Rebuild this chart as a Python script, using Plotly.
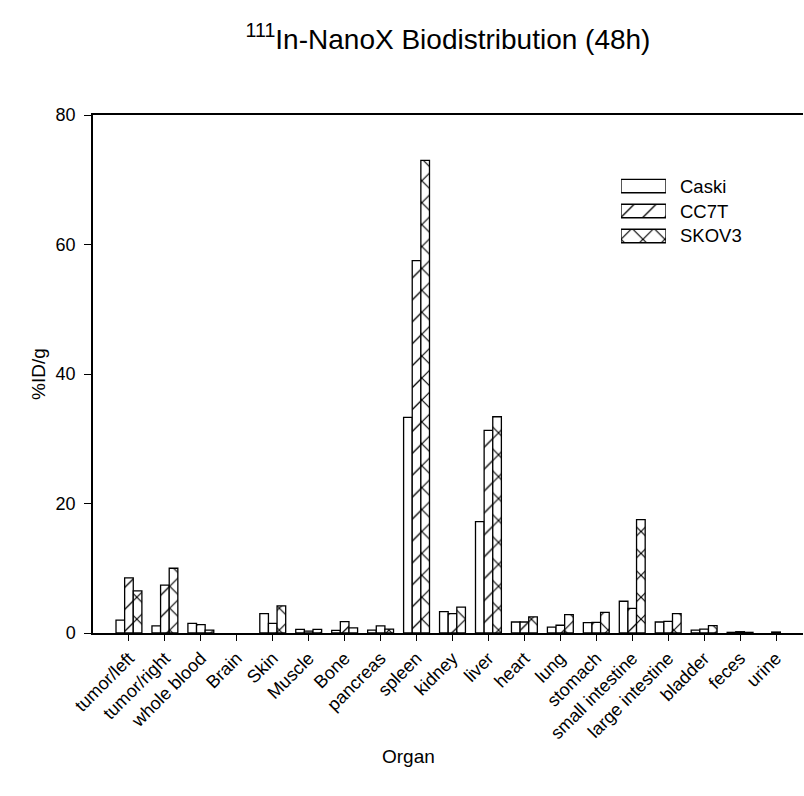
import plotly.graph_objects as go

organs = ["tumor/left", "tumor/right", "whole blood", "Brain", "Skin", "Muscle", "Bone",
          "pancreas", "spleen", "kidney", "liver", "heart", "lung", "stomach",
          "small intestine", "large intestine", "bladder", "feces", "urine"]
series_names = ["Caski", "CC7T", "SKOV3"]
caski = [2.0, 1.1, 1.5, None, 3.0, 0.55, 0.4, 0.45, 33.3, 3.3, 17.2, 1.7, 0.9, 1.6, 4.9, 1.7, 0.45, 0.1, None]
cc7t = [8.5, 7.4, 1.3, None, 1.5, 0.3, 1.75, 1.1, 57.5, 3.0, 31.3, 1.7, 1.2, 1.65, 3.8, 1.8, 0.6, 0.2, 0.15]
skov3 = [6.5, 10.0, 0.45, None, 4.2, 0.55, 0.8, 0.6, 73.0, 4.0, 33.4, 2.5, 2.85, 3.2, 17.5, 3.0, 1.15, 0.1, None]
series_values = [caski, cc7t, skov3]
patterns = ["", "/", "x"]
solidities = [0.085, 0.085, 0.14]
y_ticks = [0, 20, 40, 60, 80]

FONT = "Liberation Sans, Arial, sans-serif"
PSIZE = 15.5
x_idx = list(range(len(organs)))

fig = go.Figure()
for name, vals, pat, sol in zip(series_names, series_values, patterns, solidities):
    fig.add_trace(go.Bar(
        x=x_idx, y=vals, name=name, showlegend=False,
        marker=dict(color="white", line=dict(color="black", width=1.3),
                    pattern=dict(shape=pat, fgcolor="black", bgcolor="white", fgopacity=1,
                                 size=PSIZE, solidity=sol, fillmode="overlay")),
    ))

# custom legend drawn as bars on an inset axis
leg_y = [2, 1, 0]
fig.add_trace(go.Bar(
    x=[1, 1, 1], y=leg_y, orientation="h", width=0.54, xaxis="x2", yaxis="y2",
    showlegend=False, cliponaxis=False, hoverinfo="skip",
    marker=dict(color="white", line=dict(color="black", width=1.3),
                pattern=dict(shape=patterns, fgcolor="black", bgcolor="white", fgopacity=1,
                             size=PSIZE, solidity=solidities, fillmode="overlay")),
))
leg_text_x = (678 - 93) / 710
for name, yy in zip(series_names, leg_y):
    ypaper = 0.7423 + (yy + 0.5) / 3 * (0.887 - 0.7423)
    fig.add_annotation(x=leg_text_x, y=ypaper, xref="paper", yref="paper", text=name, showarrow=False,
                       xanchor="left", yanchor="middle", font=dict(size=18.5, family=FONT, color="black"))

fig.add_annotation(x=0.445, y=-0.239, xref="paper", yref="paper", text="Organ", showarrow=False,
                   xanchor="center", yanchor="middle", font=dict(size=19, family=FONT, color="black"))
fig.add_annotation(x=-0.0775, y=0.5, xref="paper", yref="paper", text="%ID/g", showarrow=False,
                   textangle=-90, xanchor="center", yanchor="middle",
                   font=dict(size=19, family=FONT, color="black"))

fig.update_layout(
    width=804, height=796,
    margin=dict(l=93, r=1, t=115, b=163),
    paper_bgcolor="white", plot_bgcolor="white",
    font=dict(family=FONT, color="black", size=18),
    barmode="group", bargap=0.28, bargroupgap=0,
    title=dict(text="<sup>111</sup>In-NanoX Biodistribution (48h)", x=0.5, xref="paper",
               y=0.951, yref="container", yanchor="middle", xanchor="center",
               font=dict(size=28, family=FONT, color="black")),
    xaxis=dict(tickmode="array", tickvals=x_idx, ticktext=organs, tickangle=-45,
               range=[-1.0, 18.75], showline=True, linecolor="black", linewidth=1.5,
               mirror=True, ticks="outside", ticklen=6, tickcolor="black", tickwidth=1.3,
               showgrid=False, zeroline=False, tickfont=dict(size=18)),
    yaxis=dict(range=[0, 80], tickvals=y_ticks, showline=True, linecolor="black", linewidth=1.5,
               ticks="outside", ticklen=7, tickcolor="black", tickwidth=1.3, showgrid=False,
               zeroline=False, tickfont=dict(size=18), ticklabelstandoff=5),
    xaxis2=dict(domain=[0.7437, 0.807], range=[0, 1], visible=False, anchor="y2", fixedrange=True),
    yaxis2=dict(domain=[0.7423, 0.887], range=[-0.5, 2.5], visible=False, anchor="x2", fixedrange=True),
    showlegend=False,
)

fig.write_html("out.html")
